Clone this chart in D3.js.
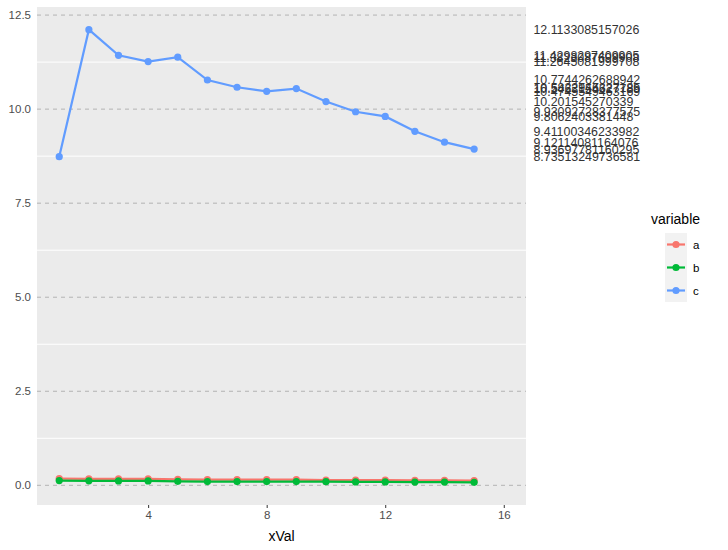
<!DOCTYPE html>
<html>
<head>
<meta charset="utf-8">
<script src="https://cdn.jsdelivr.net/npm/d3@7"></script>
<style>
  body { margin: 0; background: #fff; }
  text { font-family: "Liberation Sans", Arial, sans-serif; }
</style>
</head>
<body>
<script>
const xVal = [1,2,3,4,5,6,7,8,9,10,11,12,13,14,15]
const a = [0.18,0.17,0.17,0.17,0.16,0.15,0.15,0.15,0.15,0.14,0.14,0.14,0.13,0.13,0.125]
const b = [0.125,0.12,0.115,0.115,0.105,0.10,0.10,0.10,0.10,0.095,0.09,0.09,0.085,0.085,0.078]
const c = [8.73513249736581,12.1133085157026,11.4298297409905,11.2645081999708,11.3823087699908,
  10.7744262688942,10.5822946327185,10.4745549463169,10.5463154627789,10.201545270339,
  9.93092728377575,9.8062403381448,9.41100346233982,9.12114081164076,8.93697781160295]
const xTicks = [4, 8, 12, 16]
const yTicks = [0, 2.5, 5, 7.5, 10, 12.5]
const yMinor = [1.25, 3.75, 6.25, 8.75, 11.25]
const variables = ['a', 'b', 'c']
const colors = ['#F8766D', '#00BA38', '#619CFF']

const W = 728, H = 550
const m = {left: 37, top: 7, right: 202, bottom: 45}

const series = variables.map((v, i) => ({
  name: v,
  color: colors[i],
  values: xVal.map((x, j) => ({x, y: [a, b, c][i][j]}))
}))

const x = d3.scaleLinear().domain([0.25, 16.75]).range([m.left, W - m.right])
const yLo = d3.min([...a, ...b, ...c]), yHi = d3.max(c)
const pad = (yHi - yLo) * 0.05
const y = d3.scaleLinear().domain([yLo - pad, yHi + pad]).range([H - m.bottom, m.top])

const svg = d3.select('body').append('svg')
  .attr('width', W)
  .attr('height', H)

// panel
svg.append('rect')
  .attr('x', m.left).attr('y', m.top)
  .attr('width', W - m.right - m.left)
  .attr('height', H - m.bottom - m.top)
  .attr('fill', '#EBEBEB')

svg.selectAll('line.minor')
  .data(yMinor)
  .enter()
  .append('line')
  .attr('class', 'minor')
  .attr('x1', m.left).attr('x2', W - m.right)
  .attr('y1', d => y(d)).attr('y2', d => y(d))
  .attr('stroke', '#fff')
  .attr('stroke-width', 1)

svg.selectAll('line.major')
  .data(yTicks)
  .enter()
  .append('line')
  .attr('class', 'major')
  .attr('x1', m.left).attr('x2', W - m.right)
  .attr('y1', d => y(d)).attr('y2', d => y(d))
  .attr('stroke', '#B3B3B3')
  .attr('stroke-width', 1)
  .attr('stroke-dasharray', '4,4')

// axes
const xAxis = svg.append('g')
  .attr('transform', `translate(0, ${H - m.bottom})`)
  .call(d3.axisBottom(x).tickValues(xTicks).tickSize(3).tickPadding(3))
xAxis.select('.domain').remove()
xAxis.selectAll('line').attr('stroke', '#333')
xAxis.selectAll('text').attr('fill', '#4D4D4D').style('font-size', '11.5px')

const yAxis = svg.append('g')
  .attr('transform', `translate(${m.left}, 0)`)
  .call(d3.axisLeft(y).tickValues(yTicks).tickFormat(d3.format('.1f')).tickSize(0).tickPadding(6))
yAxis.select('.domain').remove()
yAxis.selectAll('text').attr('fill', '#4D4D4D').style('font-size', '11.5px')

svg.append('text')
  .attr('x', (m.left + W - m.right) / 2)
  .attr('y', H - 9)
  .attr('text-anchor', 'middle')
  .style('font-size', '14px')
  .attr('fill', '#000')
  .text('xVal')

// lines + points
const line = d3.line().x(d => x(d.x)).y(d => y(d.y))

const sg = svg.selectAll('g.series')
  .data(series)
  .enter()
  .append('g')
  .attr('class', 'series')

sg.append('path')
  .attr('d', d => line(d.values))
  .attr('fill', 'none')
  .attr('stroke', d => d.color)
  .attr('stroke-width', 2.2)

sg.selectAll('circle')
  .data(d => d.values.map(v => ({...v, color: d.color})))
  .enter()
  .append('circle')
  .attr('cx', d => x(d.x))
  .attr('cy', d => y(d.y))
  .attr('r', 3.6)
  .attr('fill', d => d.color)

// value labels for c
svg.selectAll('text.lab')
  .data(c)
  .enter()
  .append('text')
  .attr('class', 'lab')
  .attr('x', x(17))
  .attr('y', d => y(d))
  .attr('dy', '0.36em')
  .attr('fill', '#333')
  .style('font-size', '12.4px')
  .text(d => String(d))

// legend
const lg = svg.append('g').attr('transform', 'translate(651, 0)')
lg.append('text')
  .attr('x', 0).attr('y', 224)
  .style('font-size', '14px')
  .text('variable')

const key = lg.selectAll('g.key')
  .data(series)
  .enter()
  .append('g')
  .attr('class', 'key')
  .attr('transform', (d, i) => `translate(14, ${233 + i * 23})`)

key.append('rect')
  .attr('width', 22).attr('height', 23)
  .attr('fill', '#F2F2F2')
key.append('line')
  .attr('x1', 2).attr('x2', 20)
  .attr('y1', 11.5).attr('y2', 11.5)
  .attr('stroke', d => d.color)
  .attr('stroke-width', 2.2)
key.append('circle')
  .attr('cx', 11).attr('cy', 11.5).attr('r', 3.6)
  .attr('fill', d => d.color)
key.append('text')
  .attr('x', 28).attr('y', 11.5)
  .attr('dy', '0.36em')
  .style('font-size', '11.5px')
  .text(d => d.name)
</script>
</body>
</html>
